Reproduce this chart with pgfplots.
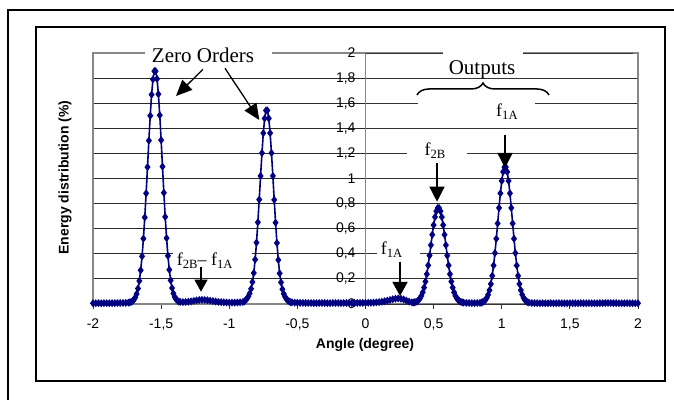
\documentclass[border=0pt]{standalone}
\usepackage{fontspec}
\setmainfont{Liberation Serif}
\newfontfamily\arial{Liberation Sans}
\usepackage{pgfplots}
\usepackage{pgfplotstable}
\pgfplotsset{compat=1.18}
\usetikzlibrary{arrows.meta,decorations.pathreplacing}
\definecolor{navy}{RGB}{0,0,128}
\definecolor{gridc}{RGB}{40,40,40}
\definecolor{framec}{RGB}{134,134,134}
\newcommand{\ff}[1]{f\raisebox{-3pt}{\fontsize{12.6}{13}\selectfont #1}}
\pgfplotstableread{
x y
-2.00 0.006
-1.98 0.006
-1.96 0.007
-1.94 0.006
-1.92 0.007
-1.90 0.007
-1.88 0.006
-1.86 0.007
-1.84 0.007
-1.82 0.008
-1.80 0.008
-1.78 0.008
-1.76 0.009
-1.74 0.011
-1.73 0.013
-1.72 0.016
-1.71 0.023
-1.70 0.034
-1.69 0.052
-1.68 0.080
-1.67 0.123
-1.66 0.184
-1.65 0.269
-1.64 0.380
-1.63 0.521
-1.62 0.690
-1.61 0.882
-1.60 1.091
-1.59 1.302
-1.58 1.500
-1.57 1.668
-1.56 1.790
-1.55 1.855
-1.54 1.855
-1.53 1.794
-1.52 1.672
-1.51 1.504
-1.50 1.306
-1.49 1.095
-1.48 0.886
-1.47 0.694
-1.46 0.525
-1.45 0.384
-1.44 0.273
-1.43 0.188
-1.42 0.127
-1.41 0.084
-1.40 0.056
-1.39 0.038
-1.38 0.027
-1.37 0.020
-1.36 0.017
-1.34 0.015
-1.32 0.016
-1.30 0.018
-1.28 0.021
-1.26 0.025
-1.24 0.029
-1.22 0.032
-1.20 0.033
-1.18 0.032
-1.16 0.030
-1.14 0.027
-1.12 0.023
-1.10 0.020
-1.08 0.017
-1.06 0.015
-1.04 0.013
-1.02 0.012
-1.00 0.011
-0.98 0.011
-0.96 0.011
-0.94 0.012
-0.92 0.013
-0.90 0.016
-0.89 0.020
-0.88 0.031
-0.87 0.042
-0.86 0.060
-0.85 0.084
-0.84 0.121
-0.83 0.175
-0.82 0.247
-0.81 0.354
-0.80 0.489
-0.79 0.651
-0.78 0.832
-0.77 1.020
-0.76 1.203
-0.75 1.362
-0.74 1.479
-0.73 1.542
-0.72 1.542
-0.71 1.479
-0.70 1.362
-0.69 1.203
-0.68 1.020
-0.67 0.830
-0.66 0.648
-0.65 0.486
-0.64 0.351
-0.63 0.244
-0.62 0.172
-0.61 0.118
-0.60 0.081
-0.59 0.057
-0.58 0.039
-0.57 0.028
-0.56 0.020
-0.55 0.015
-0.54 0.013
-0.52 0.011
-0.50 0.010
-0.48 0.009
-0.46 0.009
-0.44 0.008
-0.42 0.008
-0.40 0.008
-0.38 0.007
-0.36 0.007
-0.34 0.008
-0.32 0.008
-0.30 0.008
-0.28 0.007
-0.26 0.007
-0.24 0.008
-0.22 0.008
-0.20 0.008
-0.18 0.007
-0.16 0.008
-0.14 0.008
-0.12 0.008
-0.10 0.008
-0.08 0.008
-0.06 0.009
-0.04 0.009
-0.02 0.009
0.00 0.009
0.02 0.010
0.04 0.010
0.06 0.011
0.08 0.013
0.10 0.015
0.12 0.018
0.14 0.022
0.16 0.027
0.18 0.032
0.20 0.038
0.22 0.042
0.24 0.044
0.26 0.042
0.28 0.036
0.30 0.027
0.32 0.019
0.34 0.013
0.35 0.012
0.36 0.013
0.37 0.016
0.38 0.022
0.39 0.032
0.40 0.045
0.41 0.065
0.42 0.093
0.43 0.131
0.44 0.179
0.45 0.238
0.46 0.308
0.47 0.386
0.48 0.469
0.49 0.552
0.50 0.629
0.51 0.693
0.52 0.740
0.53 0.765
0.54 0.765
0.55 0.740
0.56 0.693
0.57 0.629
0.58 0.552
0.59 0.469
0.60 0.386
0.61 0.308
0.62 0.238
0.63 0.179
0.64 0.131
0.65 0.093
0.66 0.065
0.67 0.045
0.68 0.032
0.69 0.023
0.70 0.017
0.71 0.013
0.72 0.011
0.74 0.009
0.76 0.008
0.78 0.007
0.80 0.007
0.82 0.008
0.84 0.009
0.85 0.011
0.86 0.015
0.87 0.021
0.88 0.032
0.89 0.049
0.90 0.074
0.91 0.110
0.92 0.159
0.93 0.225
0.94 0.307
0.95 0.406
0.96 0.520
0.97 0.642
0.98 0.766
0.99 0.882
1.00 0.981
1.01 1.053
1.02 1.091
1.03 1.091
1.04 1.053
1.05 0.981
1.06 0.882
1.07 0.766
1.08 0.642
1.09 0.520
1.10 0.406
1.11 0.307
1.12 0.225
1.13 0.159
1.14 0.110
1.15 0.074
1.16 0.049
1.17 0.032
1.18 0.021
1.19 0.015
1.20 0.011
1.22 0.008
1.24 0.007
1.26 0.007
1.28 0.006
1.30 0.007
1.32 0.006
1.34 0.006
1.36 0.007
1.38 0.006
1.40 0.006
1.42 0.007
1.44 0.006
1.46 0.006
1.48 0.006
1.50 0.007
1.52 0.006
1.54 0.006
1.56 0.006
1.58 0.007
1.60 0.006
1.62 0.006
1.64 0.007
1.66 0.006
1.68 0.006
1.70 0.006
1.72 0.007
1.74 0.007
1.76 0.008
1.78 0.008
1.80 0.008
1.82 0.007
1.84 0.007
1.86 0.006
1.88 0.006
1.90 0.006
1.92 0.007
1.94 0.006
1.96 0.006
1.98 0.006
2.00 0.006
}\energy
\begin{document}
\begin{tikzpicture}[x=1pt,y=1pt]
\useasboundingbox (0,0) rectangle (674,399);
\begin{scope}
\clip (0,0) rectangle (674,399);
\draw[line width=1.5pt] (8,389) rectangle (720,-30);
\end{scope}
\draw[line width=1.5pt] (36,18) rectangle (665,372);
\begin{axis}[at={(93pt,95pt)}, anchor=south west, scale only axis,
  width=545pt, height=251pt,
  xmin=-2, xmax=2, ymin=0, ymax=2,
  clip=false,
  axis line style={framec, line width=1.1pt},
  xtick={-2,-1.5,-1,-0.5,0,0.5,1,1.5,2},
  xticklabels={-2,{-1,5},-1,{-0,5},0,{0,5},1,{1,5},2},
  ytick={0,0.2,0.4,0.6,0.8,1,1.2,1.4,1.6,1.8,2},
  yticklabels={0,{0,2},{0,4},{0,6},{0,8},1,{1,2},{1,4},{1,6},{1,8},2},
  xtick pos=bottom, tick align=outside, major tick length=5pt,
  xtick style={black!80, line width=0.9pt},
  ytick style={draw=none},
  ymajorgrids, major grid style={gridc, line width=0.9pt},
  ticklabel style={font=\arial\fontsize{14}{14}\selectfont},
  xticklabel style={yshift=-6pt},
  yticklabel style={xshift=271pt},
]
\draw[framec, line width=1.1pt] (axis cs:0,0) -- (axis cs:0,2);
\pgfplotsinvokeforeach{0,0.2,0.4,0.6,0.8,1,1.2,1.4,1.6,1.8,2}{
  \draw[black!80, line width=0.9pt] (axis cs:0,#1) -- ++(-5pt,0);
}
\addplot[navy, line width=1.6pt, mark=diamond*, mark size=2.7pt, mark options={solid}] table[x=x,y=y] {\energy};
\end{axis}
% white boxes behind annotations
\fill[white] (145,333) rectangle (272,350);
\fill[white] (443,322) rectangle (523,350);
\fill[white] (418,292) rectangle (535,300);
\fill[white] (407,240) rectangle (467,252);
\fill[white] (377,141) rectangle (420,150);
\fill[white] (173,141) rectangle (252,150);
\node[anchor=base, inner sep=0pt, font=\fontsize{21}{21}\selectfont] at (203,336.3) {Zero Orders};
\node[anchor=base, inner sep=0pt, font=\fontsize{21}{21}\selectfont] at (482,324) {Outputs};
\draw[line width=1.5pt, decorate, decoration={brace, amplitude=12pt}] (417,304) -- (549,304);
\node[anchor=base west, inner sep=0pt, font=\fontsize{18}{18}\selectfont] at (496,282.3) {\ff{1A}};
\node[anchor=base west, inner sep=0pt, font=\fontsize{18}{18}\selectfont] at (424.3,243) {\ff{2B}};
\node[anchor=base west, inner sep=0pt, font=\fontsize{18}{18}\selectfont] at (380.7,144.5) {\ff{1A}};
\node[anchor=base west, inner sep=0pt, font=\fontsize{18}{18}\selectfont] at (176.7,133) {\ff{2B}-- \ff{1A}};
% arrows
\draw[line width=1.3pt, -{Triangle[length=16pt,width=14pt]}] (203,329.7) -- (176,303);
\draw[line width=1.3pt, -{Triangle[length=16pt,width=14pt]}] (225,330.7) -- (259.3,279);
\draw[line width=1.3pt, -{Triangle[length=15pt,width=15pt]}] (505,264) -- (505,231);
\draw[line width=1.3pt, -{Triangle[length=15pt,width=15pt]}] (437,236) -- (437,197.3);
\draw[line width=1.3pt, -{Triangle[length=14pt,width=15pt]}] (400,137.3) -- (400,103);
\draw[line width=1.3pt, -{Triangle[length=12pt,width=13pt]}] (201,132.3) -- (201,107.3);
% axis labels
\node[rotate=90, font=\arial\bfseries\fontsize{14}{14}\selectfont] at (65,221.5) {Energy distribution (\%)};
\node[anchor=base, font=\arial\bfseries\fontsize{14}{14}\selectfont] at (365,51) {Angle (degree)};
\end{tikzpicture}
\end{document}
